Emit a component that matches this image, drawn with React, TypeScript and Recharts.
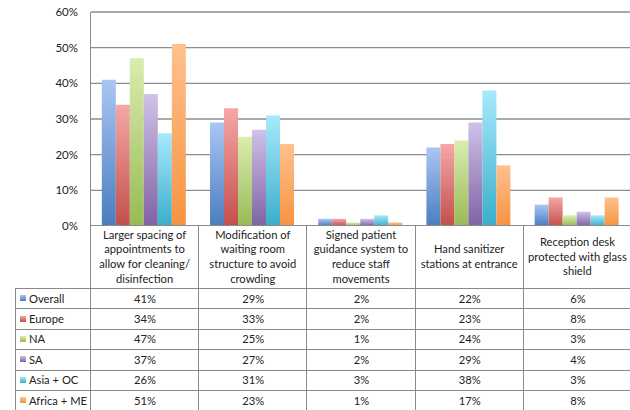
import React from "react";
import { BarChart, Bar, XAxis, YAxis, CartesianGrid } from "recharts";

const categories = [
  "Larger spacing of\nappointments to\nallow for cleaning/\ndisinfection",
  "Modification of\nwaiting room\nstructure to avoid\ncrowding",
  "Signed patient\nguidance system to\nreduce staff\nmovements",
  "Hand sanitizer\nstations at entrance",
  "Reception desk\nprotected with glass\nshield",
];
const seriesNames = ["Overall", "Europe", "NA", "SA", "Asia + OC", "Africa + ME"];
const overall = [41, 29, 2, 22, 6];
const europe = [34, 33, 2, 23, 8];
const na = [47, 25, 1, 24, 3];
const sa = [37, 27, 2, 29, 4];
const asiaOc = [26, 31, 3, 38, 3];
const africaMe = [51, 23, 1, 17, 8];
const yTicks = [0, 10, 20, 30, 40, 50, 60];

const seriesValues = [overall, europe, na, sa, asiaOc, africaMe];
const keys = ["s0", "s1", "s2", "s3", "s4", "s5"];
const colors = [
  ["#aac6f3", "#4a7dbf"],
  ["#f5a8a6", "#c24f4b"],
  ["#daedaf", "#98ba55"],
  ["#cfc1e8", "#7f63a3"],
  ["#a8e9fc", "#3aaecb"],
  ["#fec18e", "#f79341"],
];

const data = categories.map((c, i) => {
  const row: any = { name: c };
  seriesValues.forEach((s, j) => (row[keys[j]] = s[i]));
  return row;
});

const FONT = "Lato, 'Open Sans', sans-serif";
const LEFT = 91;
const COLW = 108.2;
const TOP0 = 226;
const HEADER_BOTTOM = 288;
const ROWH = 20.4;
const BORDER = "1px solid #8a8a8a";
const FS = 11.2;

export default function App() {
  return (
    <div
      style={{
        position: "absolute",
        left: 0,
        top: 0,
        width: 630,
        height: 410,
        overflow: "hidden",
        background: "#fff",
        fontFamily: FONT,
      }}
    >
      <div style={{ position: "absolute", left: 0, top: 0 }}>
        <BarChart
          width={640}
          height={240}
          data={data}
          margin={{ top: 12, right: 8, bottom: 14, left: 0 }}
          barCategoryGap="10%"
          barGap={0}
        >
          <defs>
            {colors.map((c, i) => (
              <linearGradient key={i} id={`g${i}`} x1="0" y1="0" x2="0" y2="1">
                <stop offset="0%" stopColor={c[0]} />
                <stop offset="100%" stopColor={c[1]} />
              </linearGradient>
            ))}
          </defs>
          <CartesianGrid vertical={false} stroke="#8c8c8c" strokeWidth={1.3} />
          <XAxis dataKey="name" hide />
          <YAxis
            width={91}
            domain={[0, 60]}
            ticks={yTicks}
            tickFormatter={(v) => `${v}%`}
            axisLine={false}
            tickLine={false}
            tickSize={0}
            tickMargin={13}
            interval={0}
            tick={{ fill: "#222", fontSize: 11.5, fontFamily: FONT }}
          />
          {keys.map((k, i) => (
            <Bar
              key={k}
              dataKey={k}
              name={seriesNames[i]}
              fill={`url(#g${i})`}
              isAnimationActive={false}
            />
          ))}
        </BarChart>
      </div>

      {/* white cover below 0% so table region is clean */}
      <div style={{ position: "absolute", left: 0, top: TOP0 + 6, width: 630, height: 20, background: "#fff" }} />

      {/* y-axis line continuing through the table */}
      <div style={{ position: "absolute", left: LEFT - 1, top: 12, width: 0, height: 400, borderLeft: "1.5px solid #8a8a8a" }} />
      {/* 0% line / header top */}
      <div style={{ position: "absolute", left: LEFT, top: TOP0 - 1, width: 545, height: 0, borderTop: "1.5px solid #8a8a8a" }} />

      {/* header cells */}
      {categories.map((c, i) => (
        <div
          key={"h" + i}
          style={{
            position: "absolute",
            left: LEFT + i * COLW,
            top: TOP0,
            width: COLW,
            height: HEADER_BOTTOM - TOP0,
            borderRight: BORDER,
            boxSizing: "border-box",
            display: "flex",
            flexDirection: "column",
            justifyContent: "center",
            alignItems: "center",
            fontSize: FS,
            lineHeight: "14.6px",
            color: "#222",
            textAlign: "center",
            whiteSpace: "nowrap",
            background: "#fff",
          }}
        >
          {c.split("\n").map((l, j) => (
            <div key={j}>{l}</div>
          ))}
        </div>
      ))}

      {/* body rows */}
      {seriesNames.map((s, r) => (
        <React.Fragment key={"r" + r}>
          <div
            style={{
              position: "absolute",
              left: 15,
              top: HEADER_BOTTOM + r * ROWH,
              width: 620,
              height: 0,
              borderTop: BORDER,
            }}
          />
          <div
            style={{
              position: "absolute",
              left: 15,
              top: HEADER_BOTTOM + r * ROWH,
              width: LEFT - 15,
              height: ROWH,
              borderLeft: BORDER,
              boxSizing: "border-box",
              display: "flex",
              alignItems: "center",
              fontSize: FS,
              color: "#222",
              whiteSpace: "nowrap",
            }}
          >
            <span
              style={{
                display: "inline-block",
                width: 6,
                height: 6,
                marginLeft: 4,
                marginRight: 3,
                background: `linear-gradient(${colors[r][0]}, ${colors[r][1]})`,
              }}
            />
            {s}
          </div>
          {seriesValues[r].map((v, i) => (
            <div
              key={i}
              style={{
                position: "absolute",
                left: LEFT + i * COLW,
                top: HEADER_BOTTOM + r * ROWH,
                width: COLW,
                height: ROWH,
                display: "flex",
                alignItems: "center",
                justifyContent: "center",
                fontSize: FS,
                color: "#222",
              }}
            >
              {`${v}%`}
            </div>
          ))}
        </React.Fragment>
      ))}
      {/* vertical lines in body */}
      {categories.map((c, i) => (
        <div
          key={"v" + i}
          style={{
            position: "absolute",
            left: LEFT + (i + 1) * COLW - 1,
            top: HEADER_BOTTOM,
            width: 0,
            height: 130,
            borderLeft: BORDER,
          }}
        />
      ))}
      <div style={{ position: "absolute", left: 15, top: HEADER_BOTTOM + 6 * ROWH, width: 620, height: 0, borderTop: BORDER }} />
    </div>
  );
}
